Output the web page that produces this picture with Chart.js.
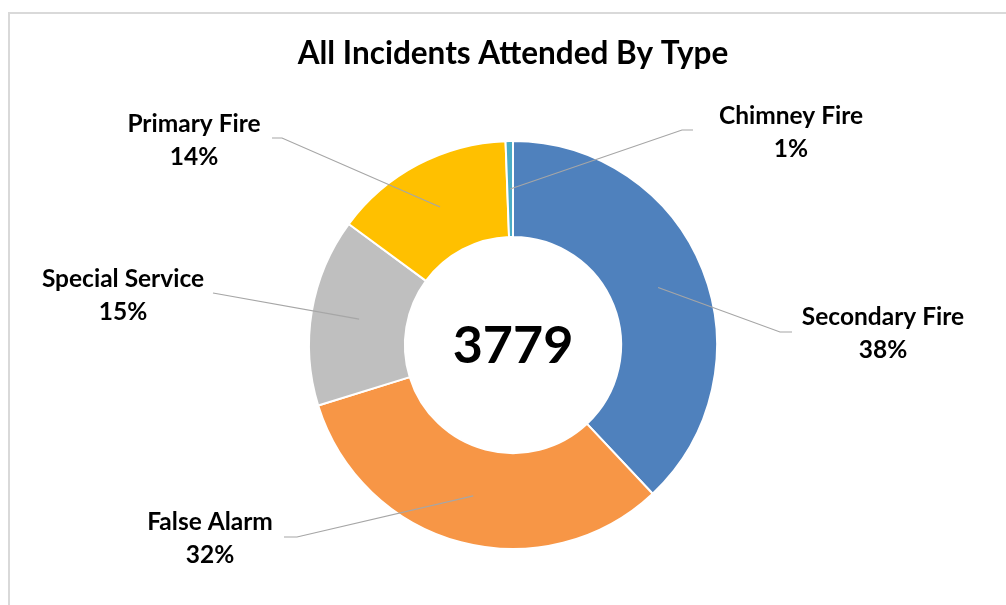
<!DOCTYPE html>
<html>
<head>
<meta charset="utf-8">
<script src="https://cdn.jsdelivr.net/npm/chart.js@4/dist/chart.umd.min.js"></script>
<style>
  html, body { margin: 0; padding: 0; background: #ffffff; }
  #wrap { width: 1006px; height: 605px; }
</style>
</head>
<body>
<div id="wrap"><canvas id="c" width="1006" height="605"></canvas></div>
<script>
// ---- data ----
const chartTitle = 'All Incidents Attended By Type';
const categories = ['Secondary Fire', 'False Alarm', 'Special Service', 'Primary Fire', 'Chimney Fire'];
const incidents  = [1436, 1217, 563, 541, 22];
const sliceColors = ['#4f81bd', '#f79646', '#bfbfbf', '#ffc000', '#4bacc6'];

// ---- label layout (text centre + leader elbow/tail), presentation only ----
const labelLayout = [
  { tx: 883, ty: 317, elbow: [780, 332], tail: [792, 332] },
  { tx: 210, ty: 522, elbow: [297, 537], tail: [284, 537] },
  { tx: 123, ty: 279, elbow: [213, 293], tail: null },
  { tx: 194, ty: 124, elbow: [282, 138], tail: [272, 138] },
  { tx: 791, ty: 116, elbow: [682, 130], tail: [693, 130] }
];

const total = incidents.reduce((a, b) => a + b, 0);
const FONT = 'Lato, "Open Sans", sans-serif';

const decor = {
  id: 'decor',
  beforeDraw(chart) {
    const ctx = chart.ctx;
    ctx.save();
    ctx.fillStyle = '#ffffff';
    ctx.fillRect(0, 0, chart.width, chart.height);
    ctx.strokeStyle = '#d9d9d9';
    ctx.lineWidth = 2;
    ctx.beginPath();
    ctx.moveTo(9, chart.height + 5);
    ctx.lineTo(9, 13);
    ctx.lineTo(chart.width + 5, 13);
    ctx.stroke();
    ctx.restore();
  },
  afterDatasetsDraw(chart) {
    const ctx = chart.ctx;
    const meta = chart.getDatasetMeta(0);
    ctx.save();
    meta.data.forEach((arc, i) => {
      const p = arc.getProps(['x', 'y', 'startAngle', 'endAngle', 'innerRadius', 'outerRadius'], true);
      const mid = (p.startAngle + p.endAngle) / 2;
      const r = (p.innerRadius + p.outerRadius) / 2;
      const ax = p.x + Math.cos(mid) * r;
      const ay = p.y + Math.sin(mid) * r;
      const L = labelLayout[i];
      ctx.strokeStyle = '#a6a6a6';
      ctx.lineWidth = 1.2;
      ctx.beginPath();
      ctx.moveTo(ax, ay);
      ctx.lineTo(L.elbow[0], L.elbow[1]);
      if (L.tail) ctx.lineTo(L.tail[0], L.tail[1]);
      ctx.stroke();

      const pct = Math.round(incidents[i] / total * 100) + '%';
      ctx.fillStyle = '#000000';
      ctx.font = 'bold 24.5px ' + FONT;
      ctx.textAlign = 'center';
      ctx.textBaseline = 'middle';
      ctx.fillText(categories[i], L.tx, L.ty);
      ctx.fillText(pct, L.tx, L.ty + 33);
    });

    // centre total
    const a0 = meta.data[0];
    ctx.font = 'bold 52px ' + FONT;
    ctx.textAlign = 'center';
    ctx.textBaseline = 'middle';
    ctx.fillStyle = '#000000';
    ctx.fillText(String(total), a0.x, a0.y + 1);

    // title
    ctx.font = 'bold 31.5px ' + FONT;
    ctx.fillText(chartTitle, 513, 54);
    ctx.restore();
  }
};

new Chart(document.getElementById('c'), {
  type: 'doughnut',
  data: {
    labels: categories,
    datasets: [{
      data: incidents,
      backgroundColor: sliceColors,
      borderColor: '#ffffff',
      borderWidth: 2
    }]
  },
  options: {
    responsive: false,
    animation: false,
    devicePixelRatio: 1,
    cutout: '53%',
    layout: { padding: { top: 140, bottom: 55, left: 308, right: 288 } },
    plugins: {
      legend: { display: false },
      title: { display: false },
      tooltip: { enabled: false }
    }
  },
  plugins: [decor]
});
</script>
</body>
</html>
